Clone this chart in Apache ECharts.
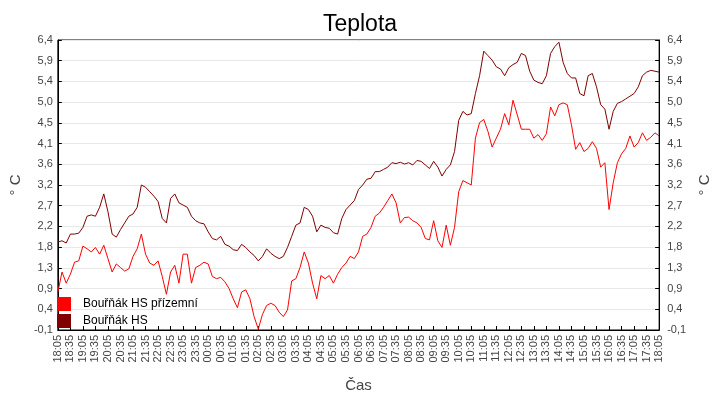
<!DOCTYPE html>
<html>
<head>
<meta charset="utf-8">
<script src="https://cdn.jsdelivr.net/npm/echarts@6/dist/echarts.min.js"></script>
<style>html,body{margin:0;padding:0;background:#fff}#c{width:720px;height:400px}</style>
</head>
<body>
<div id="c"></div>
<script>
// Time categories: every 10 minutes from 18:05 to 18:05 next day
var startMinute = 18 * 60 + 5;
var stepMinutes = 10;
var pointCount = 145;
var timeCategories = [];
for (var i = 0; i < pointCount; i++) {
  var m = (startMinute + i * stepMinutes) % 1440;
  var hh = Math.floor(m / 60), mm = m % 60;
  timeCategories.push((hh < 10 ? '0' : '') + hh + ':' + (mm < 10 ? '0' : '') + mm);
}

var yTickLabels = ['-0,1','0,4','0,9','1,3','1,8','2,2','2,7','3,2','3,6','4,1','4,5','5,0','5,4','5,9','6,4'];
var yMin = -0.1, yMax = 6.4;

var seriesNames = ['Bouřňák HS přízemní', 'Bouřňák HS'];

var prizemniValues = [
  0.75,1.2,0.95,1.15,1.42,1.45,1.78,1.72,1.65,1.75,
  1.6,1.8,1.5,1.2,1.38,1.3,1.22,1.27,1.55,1.72,
  2.05,1.6,1.4,1.35,1.45,1.1,0.7,1.2,1.35,0.95,
  1.6,1.6,0.95,1.3,1.35,1.42,1.38,1.1,1.05,1.08,
  0.98,0.83,0.6,0.4,0.75,0.8,0.6,0.2,-0.08,0.25,
  0.45,0.5,0.45,0.3,0.2,0.35,1.0,1.05,1.3,1.65,
  1.4,0.95,0.6,1.12,1.05,1.12,0.95,1.15,1.3,1.4,
  1.55,1.5,1.65,2.0,2.05,2.2,2.45,2.52,2.65,2.8,
  2.95,2.75,2.3,2.42,2.43,2.35,2.3,2.2,1.95,1.92,
  2.35,1.9,1.75,2.25,1.8,2.2,3.0,3.25,3.2,3.15,
  4.2,4.55,4.62,4.35,4.0,4.2,4.4,4.75,4.5,5.05,
  4.73,4.4,4.4,4.4,4.2,4.28,4.15,4.3,4.9,4.7,
  4.95,4.99,4.95,4.5,3.95,4.1,3.9,3.97,4.12,3.97,
  3.55,3.65,2.6,3.2,3.65,3.85,3.97,4.25,4.0,4.1,
  4.32,4.15,4.22,4.32,4.25
];

var hsValues = [
  1.87,1.9,1.85,2.05,2.05,2.07,2.2,2.45,2.48,2.45,
  2.65,2.95,2.55,2.05,1.98,2.15,2.3,2.45,2.5,2.65,
  3.15,3.1,3.0,2.9,2.78,2.4,2.3,2.85,2.95,2.75,
  2.7,2.65,2.45,2.35,2.3,2.28,2.1,1.95,1.92,2.0,
  1.82,1.78,1.7,1.68,1.82,1.75,1.65,1.57,1.45,1.55,
  1.72,1.62,1.55,1.5,1.55,1.75,2.0,2.25,2.3,2.65,
  2.6,2.45,2.1,2.25,2.2,2.18,2.08,2.05,2.4,2.6,
  2.7,2.8,3.05,3.15,3.28,3.3,3.45,3.45,3.5,3.55,
  3.65,3.63,3.66,3.62,3.65,3.6,3.7,3.68,3.6,3.52,
  3.68,3.55,3.35,3.5,3.6,3.9,4.6,4.8,4.72,4.75,
  5.2,5.6,6.15,6.05,5.95,5.8,5.75,5.6,5.78,5.85,
  5.9,6.1,6.05,5.7,5.5,5.45,5.42,5.6,6.1,6.25,
  6.35,5.9,5.65,5.55,5.55,5.2,5.15,5.6,5.65,5.35,
  4.95,4.85,4.4,4.8,4.98,5.02,5.08,5.14,5.2,5.35,
  5.6,5.68,5.72,5.7,5.68
];

var font = 'Liberation Sans, Arial, sans-serif';
var chart = echarts.init(document.getElementById('c'), null, {renderer: 'canvas'});

function labelAxis(pos, withSplit) {
  return {
    type: 'value', position: pos, min: 0, max: yTickLabels.length - 1, interval: 1,
    name: '° C', nameLocation: 'middle', nameRotate: 90, nameGap: pos === 'left' ? 30 : 35,
    nameTextStyle: {fontFamily: font, fontSize: 15, color: '#444'},
    axisLine: {show: true, lineStyle: {color: '#000', width: 1}},
    axisTick: {show: true, inside: true, length: 4, lineStyle: {color: '#000'}},
    axisLabel: {fontFamily: font, fontSize: 11, color: '#444', margin: pos === 'left' ? 5 : 8,
      formatter: function (v) { return yTickLabels[Math.round(v)]; }},
    splitLine: {show: withSplit, lineStyle: {color: '#e8e8e8', width: 1}}
  };
}

chart.setOption({
  animation: false,
  backgroundColor: '#fff',
  title: {text: 'Teplota', left: 'center', top: 8,
    textStyle: {fontFamily: font, fontSize: 23, fontWeight: 'normal', color: '#000'}},
  grid: {left: 50, right: 52, top: 40, bottom: 70, show: true, borderColor: '#000', borderWidth: 1},
  legend: {
    orient: 'vertical', left: 52, top: 292, itemWidth: 14, itemHeight: 14, itemGap: 3,
    icon: 'rect', data: seriesNames,
    textStyle: {fontFamily: font, fontSize: 12, color: '#000', padding: [0, 0, 0, 7]}
  },
  xAxis: {
    type: 'category', data: timeCategories, boundaryGap: false,
    name: 'Čas', nameLocation: 'middle', nameGap: 48,
    nameTextStyle: {fontFamily: font, fontSize: 15, color: '#444'},
    axisLine: {lineStyle: {color: '#000'}},
    axisTick: {inside: true, length: 4, interval: 2, lineStyle: {color: '#000'}},
    axisLabel: {interval: 2, rotate: 90, fontFamily: font, fontSize: 11, color: '#444', margin: 5},
    splitLine: {show: false}
  },
  yAxis: [
    labelAxis('left', true),
    labelAxis('right', false),
    {type: 'value', min: yMin, max: yMax, show: false, splitLine: {show: false}}
  ],
  series: [
    {name: seriesNames[0], type: 'line', yAxisIndex: 2, data: prizemniValues, showSymbol: false,
      color: '#ff0000', lineStyle: {width: 1, color: '#ff0000'}},
    {name: seriesNames[1], type: 'line', yAxisIndex: 2, data: hsValues, showSymbol: false,
      color: '#800000', lineStyle: {width: 1, color: '#800000'}}
  ]
});
</script>
</body>
</html>
